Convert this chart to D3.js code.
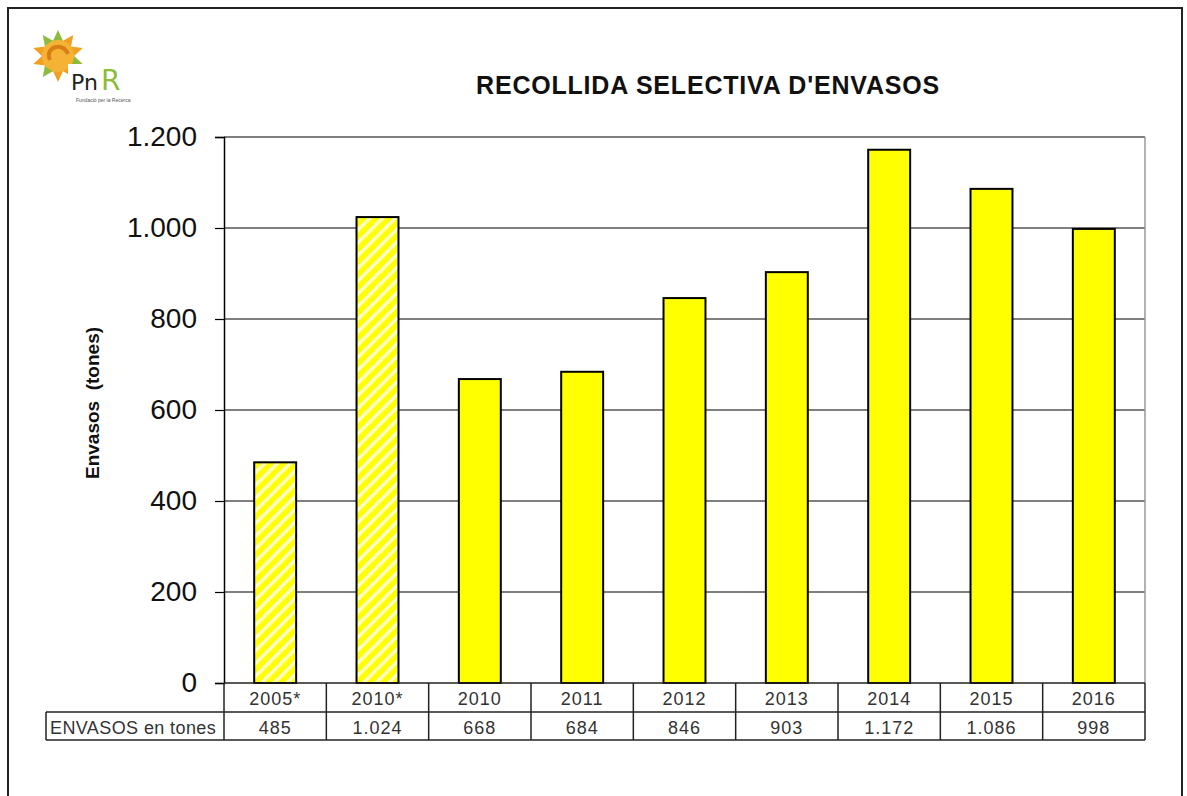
<!DOCTYPE html>
<html><head><meta charset="utf-8">
<script src="https://cdn.jsdelivr.net/npm/d3@7"></script>
<style>body{margin:0;background:#fff}svg{display:block;font-family:Arial,"Liberation Sans",sans-serif}</style>
</head><body>
<svg id="c" width="1187" height="796"></svg>
<script>
const categories = ["2005*","2010*","2010","2011","2012","2013","2014","2015","2016"];
const values = [485,1024,668,684,846,903,1172,1086,998];
const valueLabels = ["485","1.024","668","684","846","903","1.172","1.086","998"];
const hatched = [true,true,false,false,false,false,false,false,false];
const yTicks = [0,200,400,600,800,1000,1200];
const title = "RECOLLIDA SELECTIVA D'ENVASOS";
const yTitle = "Envasos  (tones)";
const rowLabel = "ENVASOS en tones";

const svg = d3.select("#c");
const defs = svg.append("defs");
const pat = defs.append("pattern").attr("id","hatch").attr("patternUnits","userSpaceOnUse")
  .attr("width",9).attr("height",9).attr("patternTransform","rotate(45)");
pat.append("rect").attr("width",9).attr("height",9).attr("fill","#ffff00");
pat.append("rect").attr("x",0).attr("width",3.5).attr("height",9).attr("fill","#ffffc8");

// outer frame
svg.append("rect").attr("x",8).attr("y",8).attr("width",1174).attr("height",800)
  .attr("fill","none").attr("stroke","#222").attr("stroke-width",2);

const L=224, R=1145, T=137, B=683;
const x = d3.scaleBand().domain(categories).range([L,R]).paddingInner(0.59).paddingOuter(0.295);
const xb = d3.scaleBand().domain(categories).range([L,R]);
const y = d3.scaleLinear().domain([0,1200]).range([B,T]);

// gridlines
svg.append("g").selectAll("line").data(yTicks.slice(1)).join("line")
  .attr("x1",L).attr("x2",R).attr("y1",d=>y(d)).attr("y2",d=>y(d))
  .attr("stroke","#000").attr("stroke-width",1.2);
// right plot border
svg.append("line").attr("x1",R).attr("x2",R).attr("y1",T).attr("y2",B).attr("stroke","#999").attr("stroke-width",1.5);

// y axis
const yAxis = d3.axisLeft(y).tickValues(yTicks).tickSize(9).tickPadding(18)
  .tickFormat(d=> d3.format(",")(d).replace(/,/g,"."));
const ga = svg.append("g").attr("transform",`translate(${L},0)`).call(yAxis);
ga.select(".domain").attr("stroke","#000").attr("stroke-width",1.5);
ga.selectAll(".tick line").attr("stroke","#000").attr("stroke-width",1.2);
ga.selectAll(".tick text").attr("font-size",28).attr("fill","#111").attr("font-family","Arial, 'Liberation Sans', sans-serif");

// bars
svg.append("g").selectAll("rect").data(values).join("rect")
  .attr("x",(d,i)=>x(categories[i])).attr("width",x.bandwidth())
  .attr("y",d=>y(d)).attr("height",d=>B-y(d))
  .attr("fill",(d,i)=>hatched[i]?"url(#hatch)":"#ffff00")
  .attr("stroke","#000").attr("stroke-width",2);

// table
const rowH1=683, rowH2=712, rowH3=740, tblL=46;
const tg = svg.append("g");
tg.selectAll("line.v").data(categories).join("line")
  .attr("x1",d=>xb(d)+xb.bandwidth()).attr("x2",d=>xb(d)+xb.bandwidth())
  .attr("y1",rowH1).attr("y2",rowH3).attr("stroke","#222").attr("stroke-width",1.5);
tg.append("line").attr("x1",L).attr("x2",L).attr("y1",rowH1).attr("y2",rowH3).attr("stroke","#222").attr("stroke-width",1.5);
tg.append("line").attr("x1",L).attr("x2",R).attr("y1",rowH1).attr("y2",rowH1).attr("stroke","#222").attr("stroke-width",1.5);
tg.append("line").attr("x1",tblL).attr("x2",R).attr("y1",rowH2).attr("y2",rowH2).attr("stroke","#222").attr("stroke-width",1.5);
tg.append("line").attr("x1",tblL).attr("x2",R).attr("y1",rowH3).attr("y2",rowH3).attr("stroke","#222").attr("stroke-width",1.5);
tg.append("line").attr("x1",tblL).attr("x2",tblL).attr("y1",rowH2).attr("y2",rowH3).attr("stroke","#222").attr("stroke-width",1.5);
tg.selectAll("text.cat").data(categories).join("text").attr("class","cat")
  .attr("x",d=>xb(d)+xb.bandwidth()/2).attr("y",705).attr("text-anchor","middle")
  .attr("font-size",18).attr("fill","#333").attr("letter-spacing",1).text(d=>d);
tg.selectAll("text.val").data(valueLabels).join("text").attr("class","val")
  .attr("x",(d,i)=>xb(categories[i])+xb.bandwidth()/2).attr("y",734).attr("text-anchor","middle")
  .attr("font-size",18).attr("fill","#333").attr("letter-spacing",1).text(d=>d);
tg.append("text").attr("x",50).attr("y",734).attr("font-size",18).attr("fill","#333").attr("letter-spacing",0.4).text(rowLabel);

// title
svg.append("text").attr("x",708).attr("y",94).attr("text-anchor","middle")
  .attr("font-size",25).attr("font-weight","bold").attr("fill","#111").attr("letter-spacing",0.8).text(title);
// y title
svg.append("text").attr("transform","translate(99,403) rotate(-90)").attr("text-anchor","middle")
  .attr("font-size",19).attr("font-weight","bold").attr("fill","#111").style("white-space","pre").text(yTitle);

// logo
const lg = svg.append("g");
const cx=58, cy=56;
const rays = d3.range(10).map(i=>i*36);
lg.selectAll("path.ray").data(rays).join("path")
  .attr("d","M-6,-13 L0,-26 L6,-13 Z")
  .attr("transform",d=>`translate(${cx},${cy}) rotate(${d})`)
  .attr("fill",(d,i)=> i%3===0?"#8dbb3a":"#f2a024");
lg.append("circle").attr("cx",cx).attr("cy",cy).attr("r",16).attr("fill","#f5b335");
lg.append("path").attr("d",`M${cx-8},${cy+4} C${cx-14},${cy-10} ${cx+6},${cy-14} ${cx+10},${cy-2}`)
  .attr("fill","none").attr("stroke","#d97d16").attr("stroke-width",4);
lg.append("rect").attr("x",68).attr("y",64).attr("width",66).attr("height",44).attr("fill","#fff");
lg.append("text").attr("x",71).attr("y",90).attr("font-size",22).attr("fill","#222").attr("font-family","'DejaVu Sans', sans-serif").text("Pn");
lg.append("text").attr("x",101).attr("y",90).attr("font-size",28).attr("fill","#8dbb3a").attr("font-family","'DejaVu Sans', sans-serif").text("R");
lg.append("text").attr("x",76).attr("y",102).attr("font-size",5).attr("fill","#555").text("Fundació per la Recerca");
</script>
</body></html>
